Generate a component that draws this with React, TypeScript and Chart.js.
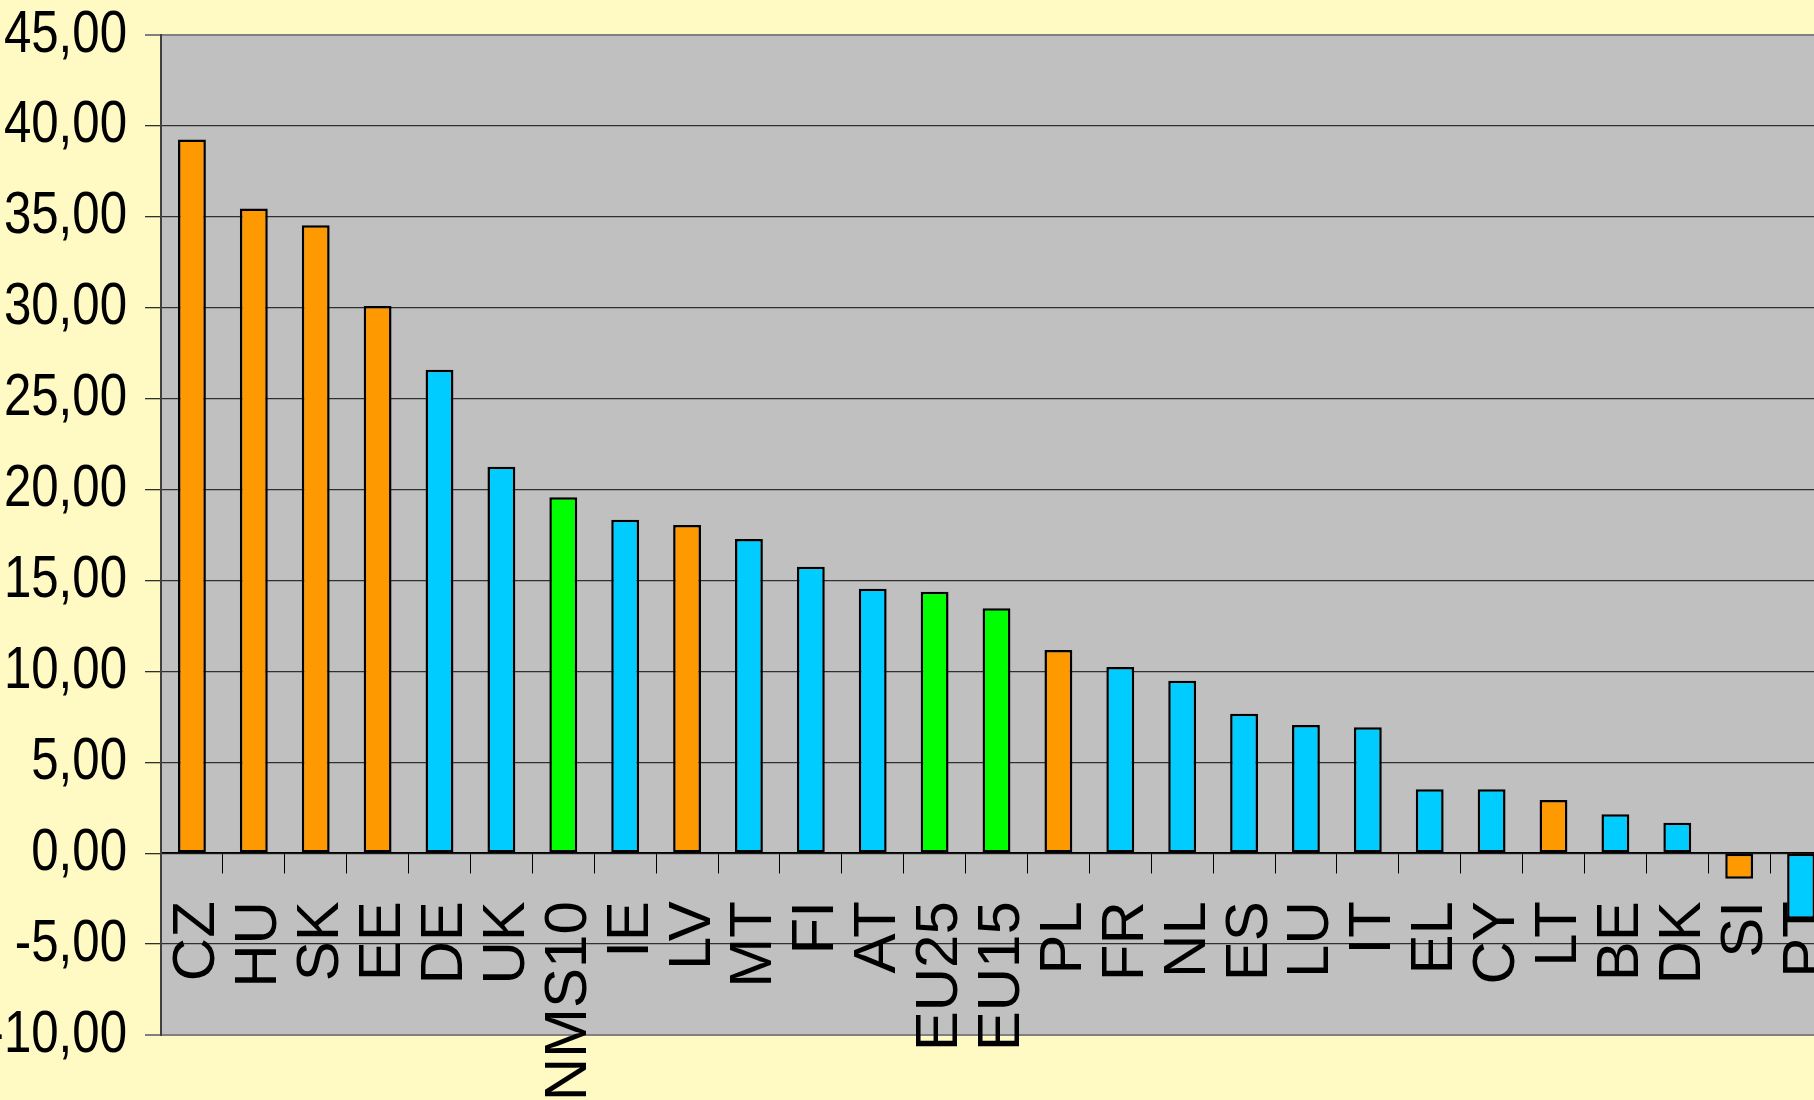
import React, { useEffect, useRef } from 'react';
import { Chart, registerables } from 'chart.js';

Chart.register(...registerables);

const categories = ['CZ', 'HU', 'SK', 'EE', 'DE', 'UK', 'NMS10', 'IE', 'LV', 'MT', 'FI', 'AT', 'EU25', 'EU15', 'PL', 'FR', 'NL', 'ES', 'LU', 'IT', 'EL', 'CY', 'LT', 'BE', 'DK', 'SI', 'PT'];
const values = [39.25, 35.46, 34.54, 30.1, 26.59, 21.25, 19.57, 18.34, 18.05, 17.28, 15.76, 14.55, 14.38, 13.47, 11.18, 10.24, 9.49, 7.67, 7.05, 6.93, 3.52, 3.52, 2.92, 2.14, 1.68, -1.41, -3.6];
// colour group of each bar: o = orange, c = cyan, g = green (aggregates)
const groups = ['o', 'o', 'o', 'o', 'c', 'c', 'g', 'c', 'o', 'c', 'c', 'c', 'g', 'g', 'o', 'c', 'c', 'c', 'c', 'c', 'c', 'c', 'o', 'c', 'c', 'o', 'c'];
const groupColors: Record<string, string> = { o: '#FF9900', c: '#00CCFF', g: '#00FF00' };
const yMin = -10;
const yMax = 45;
const yStep = 5;

const fmt = (v: number) => Number(v).toFixed(2).replace('.', ',');

const bgPlugin = {
  id: 'bgPlugin',
  beforeDraw(chart: any) {
    const { ctx, chartArea: a, width, height } = chart;
    ctx.save();
    ctx.fillStyle = '#FFF9C3';
    ctx.fillRect(0, 0, width, height);
    ctx.fillStyle = '#C0C0C0';
    ctx.fillRect(a.left, a.top, a.right - a.left, a.bottom - a.top);
    ctx.restore();
  },
};

// y tick labels drawn in a narrow (horizontally condensed) Arial-like face
const yLabelPlugin = {
  id: 'yLabelPlugin',
  afterDraw(chart: any) {
    const { ctx } = chart;
    const y = chart.scales.y;
    const rightX = y.right - 16 - 18;
    ctx.save();
    ctx.fillStyle = '#000000';
    ctx.font = "60px 'Liberation Sans', Arial, sans-serif";
    ctx.textAlign = 'right';
    ctx.textBaseline = 'middle';
    for (const t of y.ticks) {
      const py = y.getPixelForValue(t.value);
      ctx.save();
      ctx.translate(rightX, py);
      ctx.scale(0.82, 1);
      ctx.fillText(fmt(t.value), 0, 0);
      ctx.restore();
    }
    ctx.restore();
  },
};

export default function App() {
  const ref = useRef<HTMLCanvasElement | null>(null);
  useEffect(() => {
    if (!ref.current) return;
    const chart = new Chart(ref.current, {
      type: 'bar',
      data: {
        labels: categories,
        datasets: [
          {
            data: values,
            backgroundColor: groups.map((g) => groupColors[g]),
            borderColor: '#000000',
            borderWidth: 2.5,
            borderSkipped: false,
            categoryPercentage: 1,
            barPercentage: 0.45,
          },
        ],
      },
      options: {
        responsive: false,
        animation: false,
        devicePixelRatio: 1,
        layout: { padding: { top: 35, bottom: 65, left: 0, right: 0 } },
        plugins: { legend: { display: false }, tooltip: { enabled: false } },
        scales: {
          x: {
            position: { y: 0 } as any,
            afterFit(scale: any) {
              scale.paddingLeft = 0;
              scale.paddingRight = 0;
              scale.paddingTop = 0;
              scale.paddingBottom = 0;
            },
            grid: {
              offset: true,
              drawOnChartArea: false,
              drawTicks: true,
              tickLength: 20,
              color: '#000000',
              lineWidth: 1,
            },
            border: { display: true, color: '#000000', width: 1.5 },
            ticks: {
              autoSkip: false,
              minRotation: 90,
              maxRotation: 90,
              padding: 28,
              labelOffset: 6,
              color: '#000000',
              font: { family: "'Liberation Sans', Arial, sans-serif", size: 60, lineHeight: 1.0 },
            },
          },
          y: {
            min: yMin,
            max: yMax,
            afterFit(scale: any) {
              scale.width = 161;
              scale.paddingTop = 0;
              scale.paddingBottom = 0;
            },
            grid: {
              drawTicks: true,
              tickLength: 16,
              color: (c: any) => (c.tick && (c.tick.value === yMax || c.tick.value === yMin) ? '#808080' : '#303030'),
              lineWidth: (c: any) => (c.tick && (c.tick.value === yMax || c.tick.value === yMin) ? 2 : 1.3),
            },
            border: { display: true, color: '#404040', width: 2 },
            ticks: {
              display: false,
              stepSize: yStep,
              callback: (v: any) => fmt(v),
            },
          },
        },
      },
      plugins: [bgPlugin, yLabelPlugin],
    });
    return () => chart.destroy();
  }, []);
  return (
    <div style={{ position: 'fixed', left: 0, top: 0, width: 1814, height: 1100, overflow: 'hidden', background: '#FFF9C3' }}>
      <canvas ref={ref} width={1832} height={1100} style={{ display: 'block', width: 1832, height: 1100 }} />
    </div>
  );
}
